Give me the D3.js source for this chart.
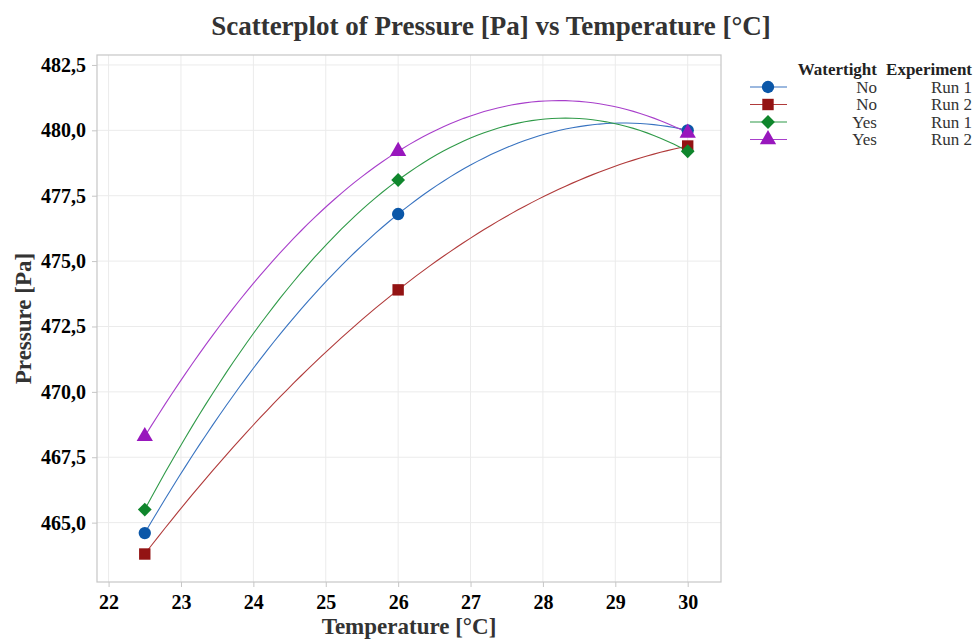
<!DOCTYPE html>
<html>
<head>
<meta charset="utf-8">
<script src="https://cdn.jsdelivr.net/npm/d3@7"></script>
<style>
body { margin: 0; background: #fff; }
text { font-family: "Liberation Serif", "Times New Roman", serif; }
</style>
</head>
<body>
<div id="chart"></div>
<script>
var temps = [22.5, 26, 30];
var noRun1 = [464.6, 476.8, 480.0];
var noRun2 = [463.8, 473.9, 479.4];
var yesRun1 = [465.5, 478.1, 479.2];
var yesRun2 = [468.3, 479.2, 479.9];
var xTicks = [22, 23, 24, 25, 26, 27, 28, 29, 30];
var yTicks = [465, 467.5, 470, 472.5, 475, 477.5, 480, 482.5];

var series = [
    { watertight: "No", run: "Run 1", values: noRun1, color: "#0b57a8", line: "#3873c0", shape: d3.symbolCircle, size: 120, rot: 0 },
    { watertight: "No", run: "Run 2", values: noRun2, color: "#931313", line: "#b03a3a", shape: d3.symbolSquare, size: 130, rot: 0 },
    { watertight: "Yes", run: "Run 1", values: yesRun1, color: "#0f862c", line: "#2f9a48", shape: d3.symbolSquare, size: 95, rot: 45 },
    { watertight: "Yes", run: "Run 2", values: yesRun2, color: "#9817bd", line: "#a83fcb", shape: d3.symbolTriangle, size: 115, rot: 0 }
];

var width = 976, height = 639;
var svg = d3.select("#chart").append("svg")
    .attr("width", width).attr("height", height);

var pLeft = 97, pRight = 721, pTop = 55, pBottom = 582;
var x = d3.scaleLinear().domain([21.84, 30.46]).range([pLeft, pRight]);
var y = d3.scaleLinear().domain([462.73, 482.88]).range([pBottom, pTop]);

// grid
svg.append("g").selectAll("line").data(xTicks).enter().append("line")
    .attr("x1", function (d) { return x(d); }).attr("x2", function (d) { return x(d); })
    .attr("y1", pTop).attr("y2", pBottom)
    .attr("stroke", "#ebebeb").attr("stroke-width", 1);
svg.append("g").selectAll("line").data(yTicks).enter().append("line")
    .attr("y1", function (d) { return y(d); }).attr("y2", function (d) { return y(d); })
    .attr("x1", pLeft).attr("x2", pRight)
    .attr("stroke", "#ebebeb").attr("stroke-width", 1);

svg.append("rect")
    .attr("x", pLeft).attr("y", pTop)
    .attr("width", pRight - pLeft).attr("height", pBottom - pTop)
    .attr("fill", "none").attr("stroke", "#c6c6c6").attr("stroke-width", 1.2);

// axes
var fmt = function (d) { return d3.format(".1f")(d).replace(".", ","); };
var xAxis = svg.append("g").attr("transform", "translate(0," + pBottom + ")")
    .call(d3.axisBottom(x).tickValues(xTicks).tickSize(5).tickPadding(8));
var yAxis = svg.append("g").attr("transform", "translate(" + pLeft + ",0)")
    .call(d3.axisLeft(y).tickValues(yTicks).tickFormat(fmt).tickSize(5).tickPadding(6));
[xAxis, yAxis].forEach(function (a) {
    a.select(".domain").remove();
    a.selectAll(".tick line").attr("stroke", "#c6c6c6");
    a.selectAll(".tick text")
        .attr("fill", "#000")
        .style("font-family", "'Liberation Serif', serif")
        .style("font-size", "20px").style("font-weight", "bold");
});

// quadratic through the three points (loess on 3 points)
function quad(vals) {
    return function (t) {
        var s = 0;
        for (var i = 0; i < 3; i++) {
            var p = vals[i];
            for (var j = 0; j < 3; j++) {
                if (j != i) p *= (t - temps[j]) / (temps[i] - temps[j]);
            }
            s += p;
        }
        return s;
    };
}
var line = d3.line().x(function (d) { return x(d[0]); }).y(function (d) { return y(d[1]); });
var ts = d3.range(0, 81).map(function (i) { return temps[0] + (temps[2] - temps[0]) * i / 80; });

series.forEach(function (s) {
    var f = quad(s.values);
    svg.append("path")
        .attr("d", line(ts.map(function (t) { return [t, f(t)]; })))
        .attr("fill", "none").attr("stroke", s.line).attr("stroke-width", 1.1);
});
series.forEach(function (s) {
    svg.append("g").selectAll("path").data(s.values).enter().append("path")
        .attr("d", d3.symbol().type(s.shape).size(s.size))
        .attr("transform", function (d, i) { return "translate(" + x(temps[i]) + "," + y(d) + ") rotate(" + s.rot + ")"; })
        .attr("fill", s.color);
});

// titles
svg.append("text").attr("x", 491).attr("y", 35).attr("text-anchor", "middle")
    .attr("fill", "#333").style("font-size", "27px").style("font-weight", "bold")
    .text("Scatterplot of Pressure [Pa] vs Temperature [°C]");
svg.append("text").attr("x", (pLeft + pRight) / 2).attr("y", 634).attr("text-anchor", "middle")
    .attr("fill", "#333").style("font-size", "23px").style("font-weight", "bold")
    .text("Temperature [°C]");
svg.append("text").attr("transform", "translate(31," + (pTop + pBottom) / 2 + ") rotate(-90)")
    .attr("text-anchor", "middle")
    .attr("fill", "#333").style("font-size", "23px").style("font-weight", "bold")
    .text("Pressure [Pa]");

// legend
var lg = svg.append("g");
lg.append("text").attr("x", 877).attr("y", 75).attr("text-anchor", "end")
    .attr("fill", "#222").style("font-size", "17px").style("font-weight", "bold").text("Watertight");
lg.append("text").attr("x", 972).attr("y", 75).attr("text-anchor", "end")
    .attr("fill", "#222").style("font-size", "17px").style("font-weight", "bold").text("Experiment");
var rows = lg.selectAll(".legends").data(series).enter().append("g")
    .attr("transform", function (d, i) { return "translate(0," + (87 + i * 17.5) + ")"; });
rows.append("line").attr("x1", 750).attr("x2", 787)
    .attr("stroke", function (d) { return d.line; }).attr("stroke-width", 1.1);
rows.append("path")
    .attr("d", function (d) { return d3.symbol().type(d.shape).size(d.size)(); })
    .attr("transform", function (d) { return "translate(768,0) rotate(" + d.rot + ")"; })
    .attr("fill", function (d) { return d.color; });
rows.append("text").attr("x", 877).attr("y", 5.5).attr("text-anchor", "end")
    .attr("fill", "#333").style("font-size", "17px").text(function (d) { return d.watertight; });
rows.append("text").attr("x", 972).attr("y", 5.5).attr("text-anchor", "end")
    .attr("fill", "#333").style("font-size", "17px").text(function (d) { return d.run; });
</script>
</body>
</html>
